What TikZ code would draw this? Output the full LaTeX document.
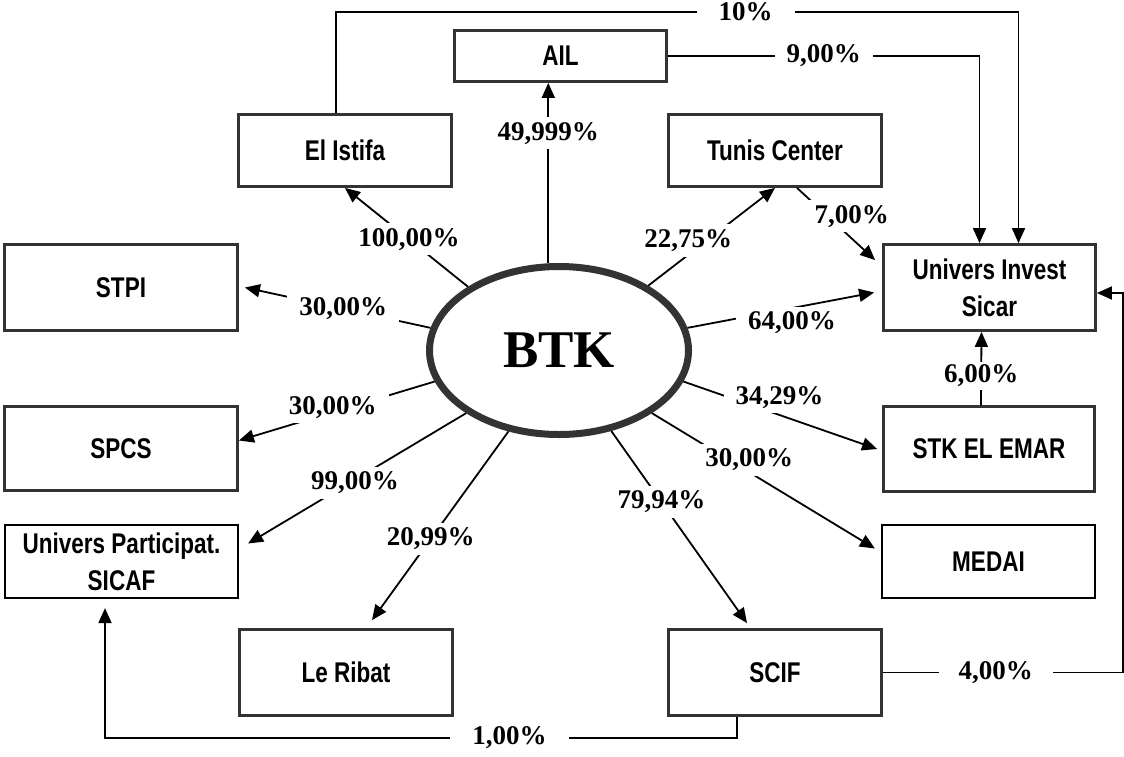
\documentclass[tikz,border=0pt]{standalone}
\usepackage{fontspec}
\setmainfont{Liberation Serif}
\newfontfamily\boxfont[FakeStretch=0.79]{Liberation Sans}
\usepackage{tikz}
\usetikzlibrary{arrows.meta,shapes.geometric}

\begin{document}
\begin{tikzpicture}[
      x=1pt, y=-1pt,
      box/.style={draw=black!80, line width=2.8pt, align=center, inner sep=0pt, font=\boxfont\bfseries\fontsize{28.5}{37}\selectfont, minimum width=213pt, minimum height=86pt},
      thinbox/.style={box, draw=black, line width=2.2pt},
      pct/.style={font=\bfseries\fontsize{27}{27}\selectfont, fill=white, inner xsep=12pt, inner ysep=5pt},
      link/.style={line width=1.8pt, -{Triangle[length=15pt,width=13pt]}}
    ]
    \useasboundingbox (0,0) rectangle (1124,756);

    % Nodes
    \node[ellipse, draw=black!80, line width=7pt, minimum width=259pt, minimum height=168pt, inner sep=0pt, font=\bfseries\fontsize{53}{53}\selectfont] (btk) at (559,350.5) {BTK};
    \node[box, minimum width=212pt, minimum height=51pt] (ail) at (560.5,56) {AIL};
    \node[box, minimum height=72pt] (elistifa) at (345,150.5) {El Istifa};
    \node[box, minimum height=72pt] (tunis) at (775,150.5) {Tunis Center};
    \node[box, minimum width=212pt] (univinv) at (989.5,287.5) {Univers Invest\\Sicar};
    \node[box, minimum width=233pt] (stpi) at (121,287.5) {STPI};
    \node[box, minimum width=233pt, minimum height=84pt] (spcs) at (121,448.5) {SPCS};
    \node[box, minimum width=211pt, minimum height=85pt] (stk) at (989,449) {STK EL EMAR};
    \node[thinbox, minimum width=233pt, minimum height=73pt] (univpart) at (121.5,561.5) {Univers Participat.\\SICAF};
    \node[thinbox, minimum height=73pt] (medai) at (988.5,561.5) {MEDAI};
    \node[box] (ribat) at (346,672.5) {Le Ribat};
    \node[box] (scif) at (775,672.5) {SCIF};

    % Rails of the long connectors
    \coordinate (railtop) at (0,12);
    \coordinate (railright) at (1123,0);
    \coordinate (railbot) at (105,738);

    % Holdings of BTK
    \draw[link] (btk.97) -- node[pct, pos=0.72]{49,999\%} (btk.97 |- ail.south);
    \draw[link] (btk.145) -- node[pct, pos=0.48]{100,00\%} (elistifa.south);
    \draw[link] (btk.36) -- node[pct, pos=0.37, xshift=-7pt, yshift=9pt]{22,75\%} (tunis.south);
    \draw[link] (btk.170) -- node[pct, pos=0.47]{30,00\%} ([xshift=6pt]stpi.east);
    \draw[link] (btk.10) -- node[pct, pos=0.56, yshift=-15pt]{64,00\%} ([xshift=-8pt,yshift=-5pt]univinv.west);
    \draw[link] (btk.194) -- node[pct, pos=0.52, yshift=5pt]{30,00\%} ([yshift=8pt]spcs.east);
    \draw[link] (btk.346) -- node[pct, pos=0.47, xshift=5pt, yshift=16pt]{34,29\%} ([xshift=-5pt]stk.west);
    \draw[link] (btk.214) -- node[pct, pos=0.51, yshift=-3pt]{99,00\%} ([xshift=9pt,yshift=18pt]univpart.east);
    \draw[link] (btk.238) -- node[pct, pos=0.57]{20,99\%} ([xshift=26pt,yshift=8pt]ribat.north);
    \draw[link] (btk.303) -- node[pct, pos=0.37]{79,94\%} ([xshift=-28pt,yshift=5pt]scif.north);
    \draw[link] (btk.326) -- node[pct, pos=0.41, xshift=6pt, yshift=9pt]{30,00\%} ([xshift=-6pt,yshift=13pt]medai.west);

    % Cross holdings
    \draw[link] ([xshift=22pt]tunis.south) -- node[pct, pos=0.56, xshift=11pt, yshift=12pt]{7,00\%} ([xshift=-7pt,yshift=-17pt]univinv.north west);
    \draw[link] ([xshift=-8pt]stk.north) -- node[pct, pos=0.4, inner ysep=3pt]{6,00\%} ([xshift=-8pt]univinv.south);
    \draw[link] (ail.east) -| node[pct, pos=0.25]{9,00\%} ([xshift=-10pt]univinv.north);
    \draw[link] ([xshift=-9pt]elistifa.north) |- node[pct, pos=0.8, inner xsep=22pt]{10\%} ([xshift=29pt]univinv.north |- railtop) -- ([xshift=29pt]univinv.north);
    \draw[link] (scif.east) -- node[pct, pos=0.47, inner xsep=20pt]{4,00\%} (scif.east -| railright) |- ([yshift=-5.5pt]univinv.east);
    \draw[link] ([xshift=-38pt]scif.south) |- node[pct, pos=0.68, inner xsep=22pt]{1,00\%} (railbot) -- ([yshift=-9pt]railbot |- univpart.south);
  \end{tikzpicture}
\end{document}
